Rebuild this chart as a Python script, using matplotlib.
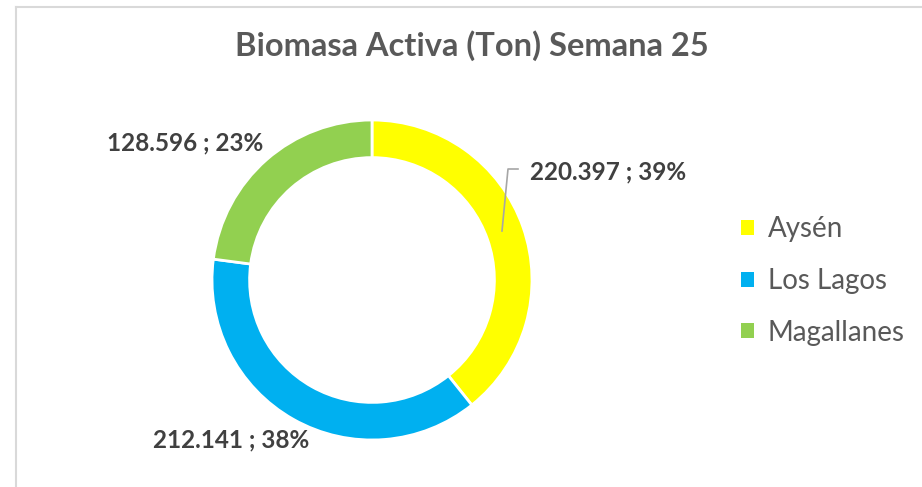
import matplotlib
matplotlib.use("Agg")
import matplotlib.pyplot as plt
from matplotlib.patches import Patch
from matplotlib.lines import Line2D

title = "Biomasa Activa (Ton) Semana 25"
regions = ["Aysén", "Los Lagos", "Magallanes"]
values = [220.397, 212.141, 128.596]
value_labels = ["220.397", "212.141", "128.596"]
colors = ["#FFFF00", "#00B0F0", "#92D050"]

W, H = 922, 487
fig = plt.figure(figsize=(W / 100, H / 100), dpi=100)
plt.rcParams['font.family'] = ['Lato', 'DejaVu Sans']

ax = fig.add_axes([0, 0, 1, 1])
cx, cy, R = 372, H - 280, 160
wedges, _ = ax.pie(values, colors=colors, startangle=90, counterclock=False,
                   radius=R, center=(cx, cy),
                   wedgeprops=dict(width=R * 0.235, edgecolor="white", linewidth=2))
ax.set_xlim(0, W)
ax.set_ylim(0, H)
ax.set_aspect('equal')
ax.axis('off')

total = sum(values)
pcts = [round(v / total * 100) for v in values]
labels = [f"{vl} ; {p}%" for vl, p in zip(value_labels, pcts)]

lab_kw = dict(fontsize=17.5, fontweight='bold', color='#404040', va='center')
ax.text(530, H - 172, labels[0], ha='left', **lab_kw)
ax.text(309, H - 440, labels[1], ha='right', **lab_kw)
ax.text(263, H - 143, labels[2], ha='right', **lab_kw)
# leader line for first label
ax.plot([518, 508, 502], [H - 169, H - 169, H - 231], color='#A6A6A6', lw=1.2)

fig.text(472 / W, 1 - 46 / H, title, ha='center', va='center',
         fontsize=23.5, fontweight='bold', color='#595959')

handles = [Patch(facecolor=c, edgecolor='none') for c in colors]
leg = fig.legend(handles, regions, loc='center left', bbox_to_anchor=(733 / W, 1 - 281 / H),
                 frameon=False, fontsize=20, labelcolor='#595959',
                 handlelength=0.45, handleheight=0.45, handletextpad=0.5,
                 labelspacing=0.92, borderpad=0.3, borderaxespad=0)

# chart border
fig.add_artist(Line2D([16 / W, 1], [1 - 7 / H, 1 - 7 / H], color='#D9D9D9', lw=1.5,
                      transform=fig.transFigure))
fig.add_artist(Line2D([16 / W, 16 / W], [0, 1 - 7 / H], color='#D9D9D9', lw=1.5,
                      transform=fig.transFigure))

fig.savefig("out.png", dpi=100, facecolor='white')
